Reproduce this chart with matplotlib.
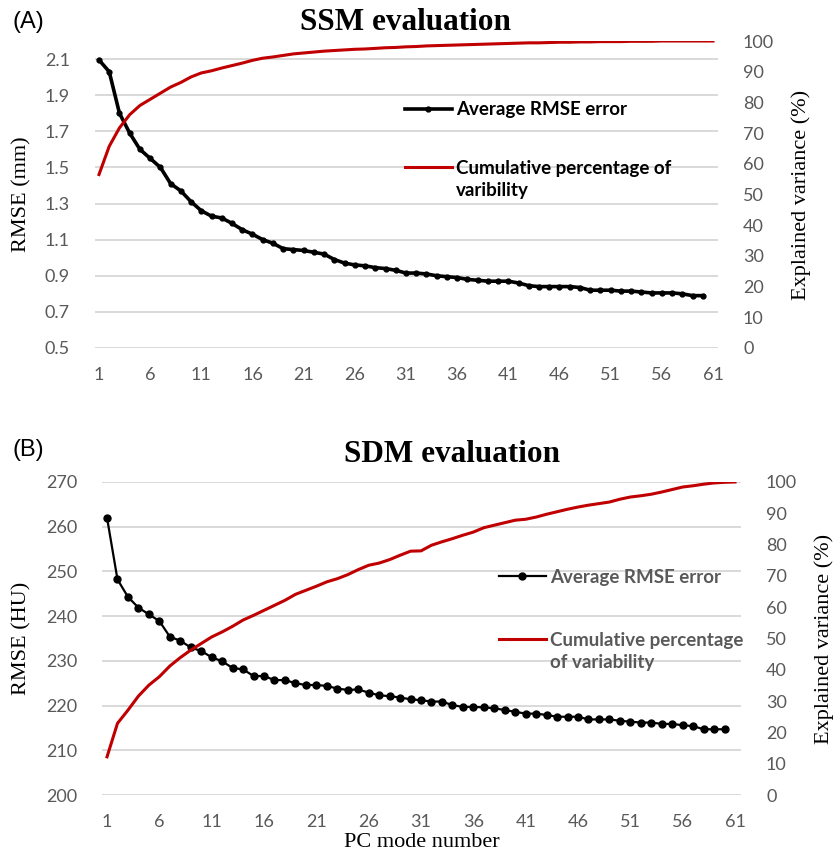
import matplotlib
matplotlib.use("Agg")
import matplotlib.pyplot as plt
from matplotlib.lines import Line2D

# ---------------- data ----------------
ssm_modes_rmse = list(range(1, 61))
ssm_rmse = [2.095, 2.03, 1.80, 1.69, 1.60, 1.55, 1.50, 1.41, 1.37, 1.31,
            1.26, 1.23, 1.22, 1.19, 1.155, 1.13, 1.10, 1.08, 1.05, 1.045,
            1.04, 1.03, 1.02, 0.99, 0.97, 0.96, 0.955, 0.945, 0.94, 0.93,
            0.915, 0.915, 0.91, 0.90, 0.895, 0.89, 0.88, 0.875, 0.87, 0.87,
            0.87, 0.86, 0.845, 0.84, 0.84, 0.84, 0.84, 0.835, 0.82, 0.82,
            0.82, 0.815, 0.815, 0.81, 0.805, 0.805, 0.805, 0.80, 0.79, 0.79]
ssm_modes_var = list(range(1, 62))
ssm_var = [56.5, 65.7, 71.7, 76.0, 79.0, 81.0, 83.0, 85.0, 86.5, 88.3,
           89.6, 90.3, 91.2, 92.0, 92.8, 93.7, 94.4, 94.8, 95.3, 95.8,
           96.1, 96.4, 96.7, 96.9, 97.1, 97.3, 97.4, 97.6, 97.8, 97.9,
           98.1, 98.2, 98.4, 98.5, 98.6, 98.7, 98.8, 98.9, 99.0, 99.1,
           99.2, 99.3, 99.4, 99.4, 99.5, 99.6, 99.6, 99.7, 99.7, 99.8,
           99.8, 99.8, 99.9, 99.9, 99.9, 100.0, 100.0, 100.0, 100.0, 100.0,
           100.0]

sdm_modes_rmse = list(range(1, 61))
sdm_rmse = [262.0, 248.2, 244.3, 241.9, 240.4, 238.9, 235.4, 234.5, 233.0, 232.2,
            230.8, 229.9, 228.4, 228.1, 226.6, 226.6, 225.7, 225.7, 225.0, 224.6,
            224.6, 224.4, 223.8, 223.5, 223.6, 222.9, 222.3, 222.1, 221.8, 221.4,
            221.2, 220.9, 220.9, 220.1, 219.7, 219.7, 219.6, 219.4, 219.0, 218.6,
            218.2, 218.2, 217.9, 217.5, 217.5, 217.5, 216.9, 216.9, 216.9, 216.6,
            216.4, 216.2, 216.2, 215.9, 215.9, 215.6, 215.4, 214.7, 214.7, 214.7]
sdm_modes_var = list(range(1, 62))
sdm_var = [12.2, 22.9, 27.1, 31.6, 35.1, 37.8, 41.2, 43.9, 46.3, 48.4,
           50.5, 52.1, 53.9, 55.9, 57.4, 59.0, 60.6, 62.2, 64.1, 65.4,
           66.7, 68.1, 69.1, 70.4, 72.0, 73.4, 74.1, 75.2, 76.6, 77.9,
           78.0, 79.8, 80.9, 81.9, 83.0, 84.0, 85.4, 86.2, 87.0, 87.8,
           88.1, 88.8, 89.7, 90.5, 91.3, 92.0, 92.6, 93.1, 93.6, 94.5,
           95.2, 95.6, 96.1, 96.8, 97.6, 98.4, 98.8, 99.3, 99.7, 99.9,
           100.0]

x_ticks = list(range(1, 62, 5))
ssm_left_ticks = [0.5, 0.7, 0.9, 1.1, 1.3, 1.5, 1.7, 1.9, 2.1]
ssm_left_labels = ["0.5", "0.7", "0.9", "1.1", "1.3", "1.5", "1.7", "1.9", "2.1"]
sdm_left_ticks = [200, 210, 220, 230, 240, 250, 260, 270]
right_ticks = list(range(0, 101, 10))

# ---------------- style ----------------
GRAY = "#595959"
GRID = "#D9D9D9"
RED = "#C00000"
SANS = ["Lato", "DejaVu Sans"]
SERIF = ["Liberation Serif", "DejaVu Serif"]
LEG_PROP = {"family": SANS, "weight": "bold", "size": 13.5}

fig = plt.figure(figsize=(8.4, 8.58), dpi=100)


def style_axes(ax, ax2, xlim, ylim, yticks, ylabels):
    ax.set_xlim(*xlim)
    ax.set_ylim(*ylim)
    ax.set_yticks(yticks)
    ax.set_yticklabels(ylabels)
    ax.set_xticks(x_ticks)
    ax.grid(axis="y", color=GRID, linewidth=1.4)
    ax.set_axisbelow(True)
    for ax_ in (ax, ax2):
        for s in ax_.spines.values():
            s.set_visible(False)
    ax.tick_params(axis="both", length=0, labelsize=13, colors=GRAY)
    ax.tick_params(axis="y", pad=18)
    ax.tick_params(axis="x", pad=14)
    ax2.set_ylim(0, 100)
    ax2.set_yticks(right_ticks)
    ax2.tick_params(axis="y", length=0, labelsize=13, colors=GRAY, pad=18)
    for lab in ax.get_xticklabels() + ax.get_yticklabels() + ax2.get_yticklabels():
        lab.set_family(SANS)


def add_legends(ax2, l1, l2, label2a, label2b, x0, y_black, y_red, color):
    blank = Line2D([], [], color="none")
    leg1 = ax2.legend([l1], [l1.get_label()], loc="center left",
                      bbox_to_anchor=(x0, y_black), borderpad=0, borderaxespad=0,
                      frameon=False, handlelength=2.5, handletextpad=0.2,
                      prop=LEG_PROP)
    ax2.add_artist(leg1)
    leg2 = ax2.legend([l2, blank], [label2a, label2b], loc="upper left",
                      bbox_to_anchor=(x0, y_red), borderpad=0, borderaxespad=0,
                      frameon=False, handlelength=2.5, handletextpad=0.2,
                      labelspacing=0.28, prop=LEG_PROP)
    for t in leg1.get_texts() + leg2.get_texts():
        t.set_color(color)
    return leg1, leg2


# ---------------- panel A ----------------
axA = fig.add_axes([95 / 840, 1 - 348 / 858, 623 / 840, 307 / 858])
axA2 = axA.twinx()
lA1, = axA.plot(ssm_modes_rmse, ssm_rmse, color="black", linewidth=2.6,
                marker="o", markersize=3.5, label="Average RMSE error")
lA2, = axA2.plot(ssm_modes_var, ssm_var, color=RED, linewidth=2.2,
                 label="Cumulative percentage of varibility")
style_axes(axA, axA2, (0.61, 61.49), (0.5, 2.2), ssm_left_ticks, ssm_left_labels)
axA.set_ylabel("RMSE (mm)", family=SERIF, fontsize=16, labelpad=10)
axA2.set_ylabel("Explained variance (%)", family=SERIF, fontsize=16, labelpad=12)
add_legends(axA2, lA1, lA2, "Cumulative percentage of", "varibility",
            (405 - 95) / 623, (348 - 110) / 307, (348 - 168) / 307 + 8 / 307,
            "black")

fig.text(405 / 840, 1 - 22 / 858, "SSM evaluation", family=SERIF, weight="bold",
         fontsize=22.5, ha="center", va="center")
fig.text(12 / 840, 1 - 22 / 858, "(A)", family=["Liberation Sans", "DejaVu Sans"],
         fontsize=17, ha="left", va="center")

# ---------------- panel B ----------------
axB = fig.add_axes([102 / 840, 1 - 795 / 858, 639 / 840, 313 / 858])
axB2 = axB.twinx()
lB1, = axB.plot(sdm_modes_rmse, sdm_rmse, color="black", linewidth=1.6,
                marker="o", markersize=5, label="Average RMSE error")
lB2, = axB2.plot(sdm_modes_var, sdm_var, color=RED, linewidth=2.2,
                 label="Cumulative percentage of variability")
style_axes(axB, axB2, (0.52, 61.57), (200, 270), sdm_left_ticks,
           [str(v) for v in sdm_left_ticks])
axB.set_ylabel("RMSE (HU)", family=SERIF, fontsize=16, labelpad=10)
axB2.set_ylabel("Explained variance (%)", family=SERIF, fontsize=16, labelpad=12)
axB.set_xlabel("PC mode number", family=SERIF, fontsize=16, labelpad=2)
add_legends(axB2, lB1, lB2, "Cumulative percentage", "of variability",
            (499 - 102) / 639, (795 - 577) / 313, (795 - 640) / 313 + 8 / 313,
            GRAY)

fig.text(452 / 840, 1 - 455 / 858, "SDM evaluation", family=SERIF, weight="bold",
         fontsize=22.5, ha="center", va="center")
fig.text(12 / 840, 1 - 450 / 858, "(B)", family=["Liberation Sans", "DejaVu Sans"],
         fontsize=17, ha="left", va="center")

fig.savefig("out.png", dpi=100, facecolor="white")
